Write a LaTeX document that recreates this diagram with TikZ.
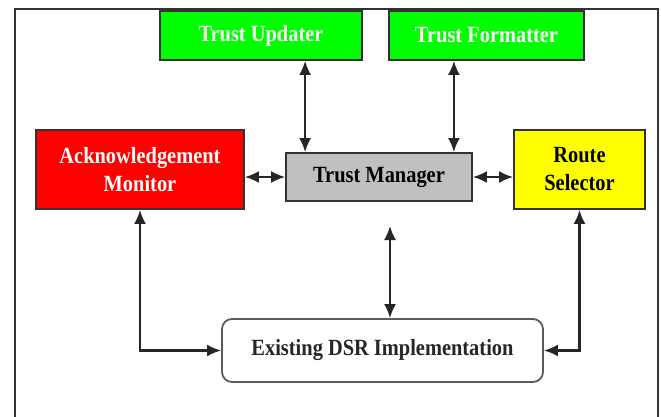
\documentclass[tikz,border=0pt]{standalone}
\usepackage{fontspec}
\setmainfont{Liberation Serif}[FakeStretch=0.88]
\usetikzlibrary{shapes,arrows.meta}
\definecolor{tr_green}{RGB}{0, 255, 0}
\definecolor{tr_red}{RGB}{255, 0, 0}
\definecolor{tr_grey}{RGB}{192, 192, 192}
\definecolor{tr_yellow}{RGB}{255, 255, 0}
\definecolor{tr_edge}{RGB}{50, 50, 50}
\tikzstyle{box}=[rectangle,draw=tr_edge,line width=1.8pt,inner sep=0pt,align=center,
  font=\fontsize{23.2}{28}\selectfont\bfseries]
\tikzstyle{gbox}=[box,fill=tr_green,text=white,minimum width=202pt,minimum height=49pt]
\tikzstyle{rbox}=[box,fill=tr_red,text=white,minimum width=208pt,minimum height=79pt]
\tikzstyle{mbox}=[box,fill=tr_grey,text=black,minimum width=186pt,minimum height=48pt]
\tikzstyle{ybox}=[box,fill=tr_yellow,text=black,minimum width=131pt,minimum height=79pt]
\tikzstyle{dsrbox}=[box,fill=white,draw=tr_edge!80,rounded corners=10pt,text=black!85,
  minimum width=321pt,minimum height=63pt]
\tikzstyle{link}=[{Latex[length=14pt,width=12pt]}-{Latex[length=14pt,width=12pt]},
  line width=2.1pt,draw=black!85]

\begin{document}
\begin{tikzpicture}[x=1pt,y=-1pt]
        \useasboundingbox (0,0) rectangle (661,417);
        \draw[line width=1.4pt,draw=tr_edge] (15,417) -- (15,9) -- (658,9) -- (658,417);
        \node [style=gbox] (tu) at (261,35.5) {Trust Updater};
        \node [style=gbox,minimum width=195pt] (tf) at (486.5,35.5) {Trust Formatter};
        \node [style=rbox] (am) at (140,169.5) {Acknowledgement\\Monitor};
        \node [style=mbox] (tm) at (379,177) {Trust Manager};
        \node [style=ybox] (rs) at (579.5,169.5) {Route\\Selector};
        \node [style=dsrbox] (dsr) at (382.5,350.5) {Existing DSR Implementation};
        \coordinate (mid) at (390,226);
        \draw [style=link] ([xshift=20pt]tm.north west) to ([xshift=20pt]tm.north west |- tu.south);
        \draw [style=link] ([xshift=-19pt]tm.north east) to ([xshift=-19pt]tm.north east |- tf.south);
        \draw [style=link] (am.east |- tm.west) to (tm.west);
        \draw [style=link] (tm.east) to (tm.east -| rs.west);
        \draw [style=link] (mid) to (mid |- dsr.north);
        \draw [style=link] (am.south) |- (dsr.west);
        \draw [style=link] (rs.south) |- (dsr.east);
    \end{tikzpicture}
\end{document}
